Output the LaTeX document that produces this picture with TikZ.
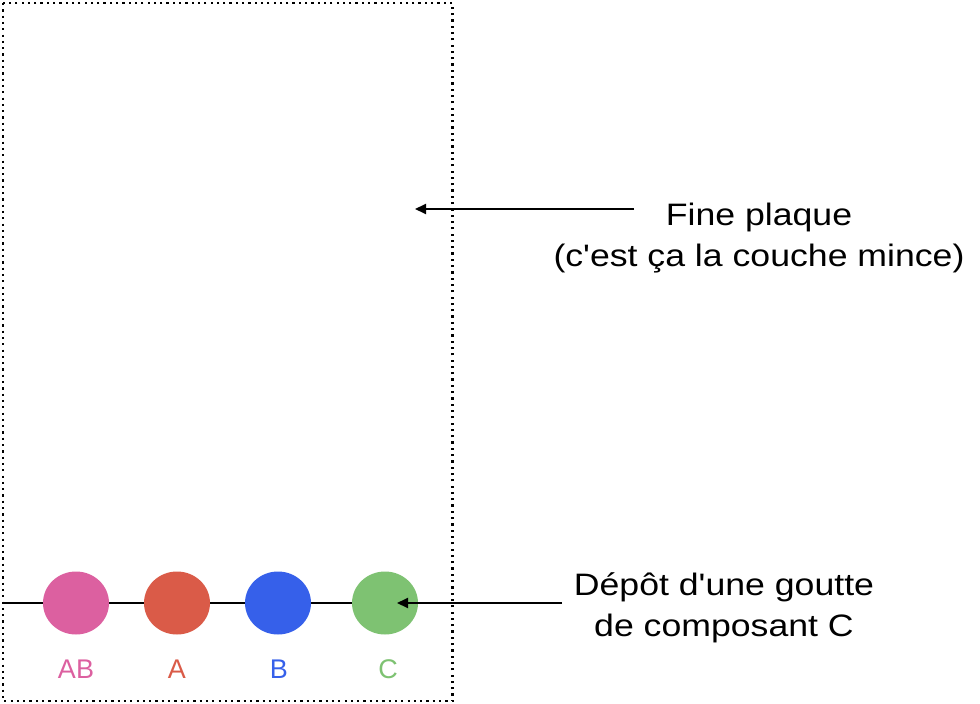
\documentclass[tikz,border=0pt]{standalone}
\usepackage{fontspec}
\setmainfont{Liberation Sans}
\newfontfamily\widesans[FakeStretch=1.15]{Liberation Sans}
\usetikzlibrary{arrows.meta,shapes.geometric}
\definecolor{cpink}{HTML}{DC60A0}
\definecolor{cred}{HTML}{DA5B48}
\definecolor{cblue}{HTML}{3660EA}
\definecolor{cgreen}{HTML}{7EC272}
\tikzset{
  spot/.style={ellipse, minimum width=66pt, minimum height=63pt, inner sep=0pt, draw=none},
  spotlabel/.style={inner sep=0pt, font=\fontsize{27}{30}\selectfont, anchor=base},
  bigtext/.style={inner sep=0pt, align=center, font=\widesans\fontsize{31}{41}\selectfont},
  pointer/.style={line width=2pt, -{Triangle[length=11pt,width=10pt]}},
  plate/.style={line width=2.2pt, dash pattern=on 2.2pt off 4.1pt}
}
\begin{document}
\begin{tikzpicture}[x=1pt,y=-1pt]
\useasboundingbox (0,0) rectangle (980,704);
\draw[plate] (3,3) rectangle (452.5,701);
\coordinate (lineL) at (4,603);
\coordinate (lineR) at (385,603);
\draw[line width=2pt] (lineL) -- (lineR);
\node[spot, fill=cpink] (sAB) at (76,603) {};
\node[spot, fill=cred] (sA) at (177,603) {};
\node[spot, fill=cblue] (sB) at (278,603) {};
\node[spot, fill=cgreen] (sC) at (385,603) {};
\node[spotlabel, text=cpink] (lAB) at (76,678) {AB};
\node[spotlabel, text=cred] (lA) at (177,678) {A};
\node[spotlabel, text=cblue] (lB) at (279,678) {B};
\node[spotlabel, text=cgreen] (lC) at (388,678) {C};
\node[bigtext] (tPlate) at (759,238) {Fine plaque\\(c'est ça la couche mince)};
\node[bigtext] (tDrop) at (724,608) {Dépôt d'une goutte\\de composant C};
\coordinate (pTip) at (415,209);
\coordinate (pStart) at (634,209);
\coordinate (dTip) at (397,603);
\coordinate (dStart) at (562,603);
\draw[pointer] (pStart) -- (pTip);
\draw[pointer] (dStart) -- (dTip);
\end{tikzpicture}
\end{document}
